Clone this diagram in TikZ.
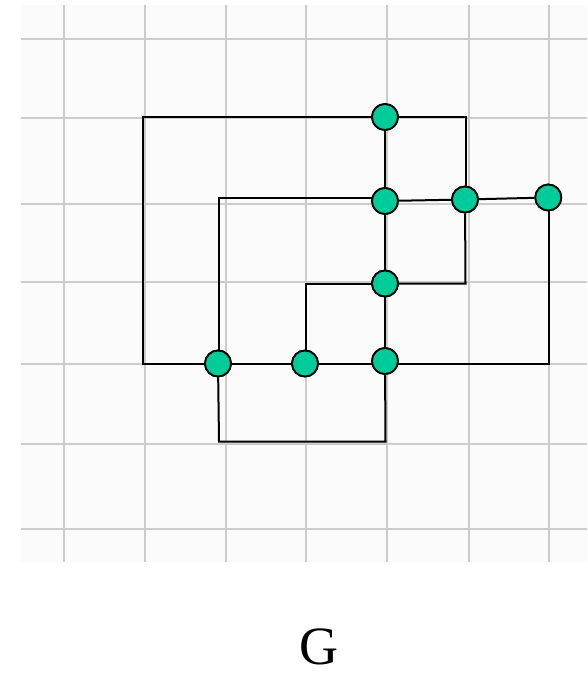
\documentclass[tikz,border=0pt]{standalone}
\usepackage{fontspec}
\setmainfont{Liberation Serif}
\definecolor{vert}{RGB}{0,204,153}
\definecolor{gridc}{RGB}{204,204,204}
\begin{document}
\begin{tikzpicture}[x=1pt,y=-1pt,
  vtx/.style={circle,draw=black,fill=vert,line width=1.8pt,minimum size=26pt,inner sep=0pt},
  edge/.style={draw=black,line width=2pt},
  gridline/.style={draw=gridc,line width=2pt}]
\useasboundingbox (0,0) rectangle (587,674);
\fill[black!1.5] (21,5) rectangle (587,562);
% grid
\foreach \x in {64.3,145,225.7,306,386.7,469,549.3}
  \draw[gridline] (\x,5) -- (\x,562);
\foreach \y in {39.3,118,203.7,282,364,444.3,528.7}
  \draw[gridline] (21,\y) -- (587,\y);
% vertices
\node[vtx] (A) at (385,117) {};
\node[vtx] (B) at (385,201) {};
\node[vtx] (C) at (465,199.5) {};
\node[vtx] (D) at (548.3,197.5) {};
\node[vtx] (E) at (385,283.5) {};
\node[vtx] (F) at (218,363.5) {};
\node[vtx] (G) at (305,363.5) {};
\node[vtx] (H) at (385,361) {};
% bend points
\coordinate (p1) at (142.5,117);
\coordinate (p2) at (142.5,363.5);
\coordinate (p3) at (465.5,117);
\coordinate (p4) at (219,198);
\coordinate (p5) at (465.5,283.5);
\coordinate (p6) at (306,283.5);
\coordinate (p7) at (549,363.5);
\coordinate (p8) at (219,441.5);
\coordinate (p9) at (385.5,441.5);
% edges
\draw[edge] (A) -- (p1) -- (p2) -- (F);
\draw[edge] (A) -- (p3) -- (p3 |- C);
\draw[edge] (p4 -| B) -- (p4) -- (p4 |- F);
\draw[edge] (B) -- (C);
\draw[edge] (C) -- (D);
\draw[edge] (A) -- (B);
\draw[edge] (B) -- (E);
\draw[edge] (E) -- (H);
\draw[edge] (C) -- (p5) -- (E);
\draw[edge] (E) -- (p6) -- (p6 |- G);
\draw[edge] (F) -- (G);
\draw[edge] (G) -- (p7 -| H);
\draw[edge] (p7 -| H) -- (p7) -- (p7 |- D);
\draw[edge] (F) -- (p8) -- (p9) -- (H);
% redraw vertices on top
\foreach \n in {A,B,C,D,E,F,G,H}
  \node[vtx] at (\n) {};
\node[font=\fontsize{54}{60}\selectfont,inner sep=0pt,anchor=base] (label) at (318.5,664) {G};
\end{tikzpicture}
\end{document}
